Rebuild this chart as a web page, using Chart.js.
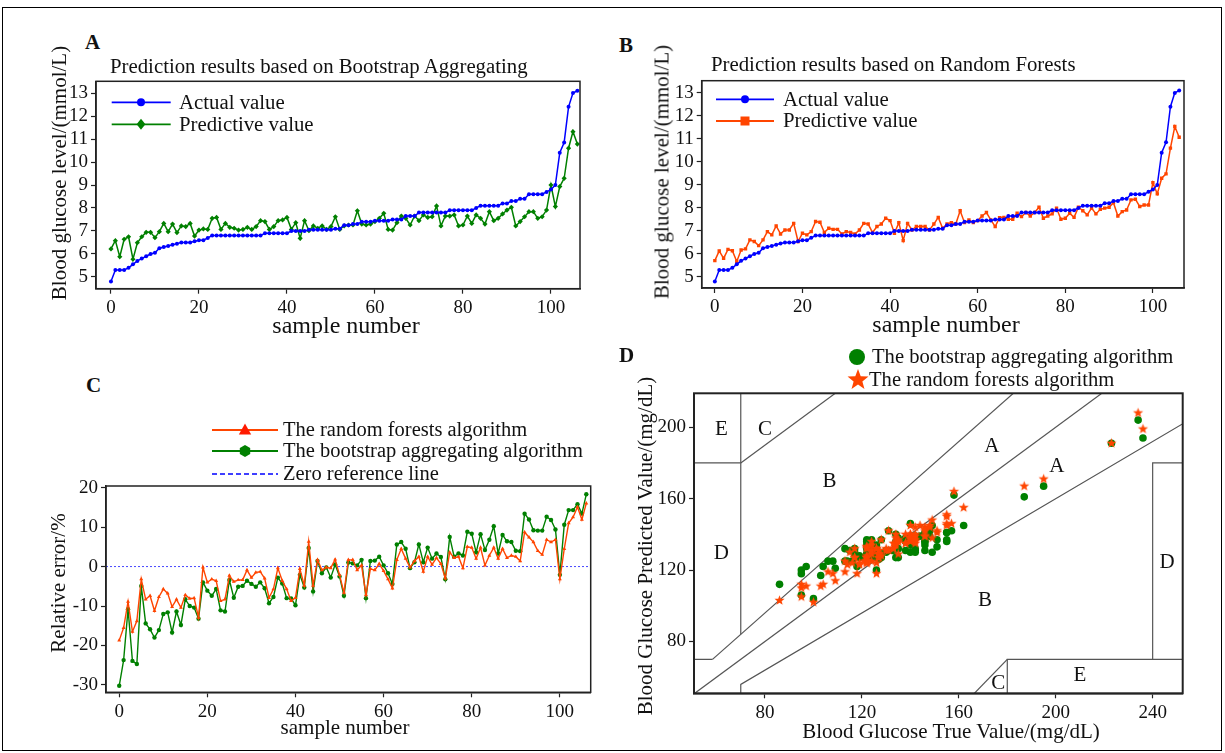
<!DOCTYPE html>
<html><head><meta charset="utf-8">
<script src="https://cdn.jsdelivr.net/npm/chart.js@4.4.1/dist/chart.umd.min.js"></script>
<style>
body{margin:0;background:#fff;width:1225px;height:753px;position:relative;overflow:hidden;font-family:"Liberation Serif","Times New Roman",serif;color:#111;}
.frame{position:absolute;left:2px;top:7px;width:1220px;height:744px;border:1px solid #000;box-sizing:border-box;}
canvas{position:absolute;}
.t{position:absolute;white-space:nowrap;font-size:21px;line-height:1;}
.big{font-size:24px;}
.v{transform:translate(-50%,-50%) rotate(-90deg);}
.h{transform:translate(-50%,-50%);}
.ttl{position:absolute;white-space:nowrap;font-size:20.8px;line-height:1;transform:translateY(-50%);}
.L{position:absolute;font-weight:bold;font-size:21px;line-height:1;transform:translateY(-50%);}
</style></head><body>
<div class="frame"></div>
<canvas id="cA" width="560" height="265" style="left:40px;top:75px"></canvas>
<canvas id="cB" width="570" height="265" style="left:640px;top:75px"></canvas>
<canvas id="cC" width="570" height="335" style="left:40px;top:405px"></canvas>
<canvas id="cD" width="600" height="410" style="left:620px;top:335px"></canvas>

<div class="L" style="left:85px;top:42px">A</div>
<div class="L" style="left:619px;top:45px">B</div>
<div class="L" style="left:86px;top:385px">C</div>
<div class="L" style="left:619px;top:355px">D</div>
<div class="ttl" style="left:110px;top:66px">Prediction results based on Bootstrap Aggregating</div>
<div class="ttl" style="left:711px;top:64px">Prediction results based on Random Forests</div>
<div class="t big h" style="left:346px;top:325px">sample number</div>
<div class="t big h" style="left:946px;top:324px">sample number</div>
<div class="t h" style="left:345px;top:727px">sample number</div>
<div class="t h" style="left:951px;top:731px">Blood Glucose True Value/(mg/dL)</div>
<div class="t v" style="left:59px;top:173px">Blood glucose level/(mmol/L)</div>
<div class="t v" style="left:662px;top:172px">Blood glucose level/(mmol/L)</div>
<div class="t v" style="left:58px;top:583px">Relative error/%</div>
<div class="t v" style="left:645px;top:546px">Blood Glucose Predicted Value/(mg/dL)</div>

<script>
// ---------- data ----------
const sampleNumbers = Array.from({length:107},(_,i)=>i);
const actualValue = [4.8,5.3,5.3,5.3,5.4,5.55,5.7,5.8,5.9,6.0,
6.05,6.25,6.3,6.35,6.4,6.45,6.5,6.5,6.5,6.55,
6.6,6.6,6.7,6.8,6.8,6.8,6.8,6.8,6.8,6.8,
6.8,6.8,6.8,6.8,6.8,6.9,6.9,6.9,6.9,6.9,
6.9,7.0,7.0,7.0,7.0,7.05,7.05,7.05,7.05,7.05,
7.05,7.1,7.1,7.25,7.25,7.3,7.3,7.4,7.4,7.4,
7.45,7.45,7.45,7.45,7.5,7.5,7.5,7.65,7.65,7.65,
7.8,7.8,7.8,7.8,7.8,7.8,7.8,7.9,7.9,7.9,
7.9,7.9,7.9,8.0,8.1,8.1,8.1,8.1,8.1,8.2,
8.2,8.3,8.3,8.4,8.4,8.6,8.6,8.6,8.6,8.7,
8.8,9.0,10.4,10.85,12.4,13.0,13.1];
const bagPredicted = [6.22,6.58,5.88,6.64,6.75,5.77,6.49,6.75,6.94,6.94,
6.71,6.97,7.33,6.97,7.3,6.93,7.22,7.19,7.33,6.78,
7.04,7.09,7.07,7.55,7.59,7.07,7.33,7.16,7.12,7.04,
7.07,7.16,7.07,7.19,7.45,7.41,7.07,7.19,7.45,7.48,
7.59,7.07,7.36,6.68,7.45,7.01,7.22,7.12,7.22,7.07,
7.19,7.62,7.07,7.22,7.26,7.26,7.88,7.3,7.26,7.3,
7.41,7.55,7.77,7.07,7.04,7.36,7.65,7.55,7.26,7.65,
7.45,7.7,7.59,7.62,8.09,7.22,7.65,7.65,7.7,7.22,
7.26,7.65,7.33,7.7,7.55,7.3,7.84,7.45,7.55,7.74,
7.91,8.03,7.22,7.41,7.62,7.84,7.84,7.55,7.62,7.91,
9.0,8.06,8.93,9.29,10.6,11.32,10.78];
const rfPredicted = [5.71,6.13,5.81,6.2,6.14,5.67,6.17,6.22,6.61,6.54,
6.36,6.61,6.97,6.83,7.22,6.87,7.04,7.04,7.33,6.54,
6.9,6.83,6.97,7.41,7.38,6.93,7.12,7.07,7.07,6.87,
6.97,6.93,6.87,7.04,7.33,7.3,6.93,7.19,7.3,7.55,
7.45,6.9,7.36,6.58,7.33,7.04,7.19,7.19,7.19,7.04,
7.3,7.59,7.12,7.3,7.36,7.3,7.88,7.36,7.48,7.36,
7.45,7.65,7.8,7.48,7.19,7.58,7.59,7.51,7.51,7.77,
7.62,7.8,7.65,7.8,8.03,7.55,7.65,7.74,7.99,7.51,
7.55,7.77,7.59,8.03,7.88,7.7,7.99,7.74,7.94,7.99,
8.03,8.23,7.65,7.84,7.91,8.35,8.38,8.06,8.13,8.13,
9.1,8.61,9.29,9.48,10.6,11.54,11.07];
const rfError = [-18.7,-15.5,-8.9,-16.5,-13.8,-3.2,-8.3,-7.4,-11.2,-7.7,
-5.7,-6.8,-10.2,-8.3,-10.4,-7.2,-8.1,-8.0,-12.9,-0.2,
-4.0,-3.2,-3.6,-8.7,-8.3,-2.3,-3.8,-3.4,-3.4,-0.9,
-2.8,-1.5,-1.3,-3.0,-7.9,-5.7,-0.4,-3.6,-5.7,-8.7,
-7.9,-0.6,-4.8,6.3,-4.8,1.7,-0.9,-0.2,-0.4,1.8,
-2.1,-6.6,1.7,1.7,-0.9,0.3,-7.2,-0.6,-0.9,0.7,
-1.1,-3.2,-5.5,1.7,4.5,2.0,-0.2,1.4,2.5,-1.3,
2.5,0.5,2.2,0.7,-3.0,3.6,2.2,2.5,-0.4,5.0,
4.8,2.0,4.8,0.3,2.8,4.8,2.0,4.5,2.2,2.8,
2.5,1.4,8.7,7.4,6.2,4.0,3.0,6.8,6.2,6.8,
-3.2,4.5,11.0,12.5,15.1,11.9,16.0];
const bagError = [-30.2,-23.7,-10.8,-23.9,-24.7,-4.9,-14.4,-15.9,-18.0,-16.1,
-12.0,-11.6,-16.7,-11.4,-14.8,-8.3,-10.0,-10.4,-13.2,-4.0,
-6.1,-7.4,-5.7,-11.1,-11.4,-3.4,-7.9,-5.1,-4.9,-3.6,
-4.4,-5.1,-4.0,-5.5,-9.3,-7.7,-2.8,-4.3,-8.0,-8.1,
-9.8,-2.1,-5.3,4.7,-6.3,1.4,-1.7,-0.2,-2.8,0.5,
-2.5,-7.4,1.0,0.8,0.3,1.7,-8.0,1.4,1.5,2.5,
0.3,-1.7,-4.4,5.6,6.2,4.5,-0.4,1.1,5.6,1.1,
4.8,2.0,3.3,2.4,-3.2,7.5,2.5,3.3,2.8,8.8,
8.3,3.6,8.2,4.2,6.8,10.2,3.3,8.0,6.4,6.2,
4.0,3.9,13.4,11.9,9.2,9.1,9.1,12.6,11.8,9.4,
-2.1,10.6,14.3,14.3,15.8,13.4,18.3];
const gridTrue = [86,95,95,95,97,100,103,104,106,108,
109,113,113,114,115,116,117,117,117,118,
119,119,121,122,122,122,122,122,122,122,
122,122,122,122,122,124,124,124,124,124,
124,126,126,126,126,127,127,127,127,127,
127,128,128,130,130,131,131,133,133,133,
134,134,134,134,135,135,135,138,138,138,
140,140,140,140,140,140,140,142,142,142,
142,142,142,144,146,146,146,146,146,148,
148,149,149,151,151,155,155,155,155,157,
158,162,187,195,223,234,236];
const gridBag = [112,118,106,120,122,104,117,122,125,125,
121,125,132,125,131,125,130,129,132,122,
127,128,127,136,137,127,132,129,128,127,
127,129,127,129,134,133,127,129,134,135,
137,127,132,120,134,126,130,128,130,127,
129,137,127,130,131,131,142,131,131,131,
133,136,140,127,127,132,138,136,131,138,
134,139,137,137,146,130,138,138,139,130,
131,138,132,139,136,131,141,134,136,139,
142,145,130,133,137,141,141,136,137,142,
162,145,161,167,191,204,194];
const gridRF = [103,110,105,112,111,102,111,112,119,118,
114,119,125,123,130,124,127,127,132,118,
124,123,125,133,133,125,128,127,127,124,
125,125,124,127,132,131,125,129,131,136,
134,124,132,118,132,127,129,129,129,127,
131,137,128,131,132,131,142,132,135,132,
134,138,140,135,129,136,137,135,135,140,
137,140,138,140,145,136,138,139,144,135,
136,140,137,145,142,139,144,139,143,144,
145,148,138,141,142,150,151,145,146,146,
164,155,167,171,191,208,199];
const ticksSample = [0,20,40,60,80,100];
const ticksGlucose = [5,6,7,8,9,10,11,12,13];
const ticksError = [-30,-20,-10,0,10,20];
const ticksTrueMg = [80,120,160,200,240];
const ticksPredMg = [80,120,160,200];
// Clarke error grid zone boundaries (mg/dL)
const zoneLines = [
  [[0,70],[58.33,70]], [[58.33,70],[250,300]], [[0,0],[400,400]],
  [[70,0],[70,56],[400,320]], [[70,84],[70,400]], [[0,180],[70,180]],
  [[70,180],[290,400]], [[130,0],[180,70]], [[180,0],[180,70],[400,70]],
  [[240,70],[240,180],[400,180]]
];
const zoneLabels = [['E',62,198.5],['C',80,198.7],['B',106.6,169.4],['A',173.6,189],['A',200.4,178.2],
  ['D',62,129.3],['B',170.8,103.2],['D',246,124],['C',176.3,56.6],['E',210,61.2]];

// ---------- helpers ----------
const FONT = '"Liberation Serif","Times New Roman",serif';
const BLUE='#0000ff', GREEN='#008000', ORANGE='#ff4500';
Chart.defaults.font.family = FONT;

function drawMarker(ctx,s,x,y,r,c){
  ctx.save(); ctx.fillStyle=c; ctx.beginPath();
  if(s==='circle'){ctx.arc(x,y,r,0,2*Math.PI);}
  else if(s==='diamond'){ctx.moveTo(x,y-r);ctx.lineTo(x+r*0.8,y);ctx.lineTo(x,y+r);ctx.lineTo(x-r*0.8,y);ctx.closePath();}
  else if(s==='square'){ctx.rect(x-r,y-r,2*r,2*r);}
  else if(s==='triangle'){ctx.moveTo(x,y-r);ctx.lineTo(x+r*0.95,y+r*0.7);ctx.lineTo(x-r*0.95,y+r*0.7);ctx.closePath();}
  else if(s==='hexagon'){for(let k=0;k<6;k++){const a=-Math.PI/2+k*Math.PI/3;const px=x+r*Math.cos(a),py=y+r*Math.sin(a);k?ctx.lineTo(px,py):ctx.moveTo(px,py);}ctx.closePath();}
  else if(s==='star'){for(let k=0;k<10;k++){const rr=k%2?r*0.42:r;const a=-Math.PI/2+k*Math.PI/5;const px=x+rr*Math.cos(a),py=y+rr*Math.sin(a);k?ctx.lineTo(px,py):ctx.moveTo(px,py);}ctx.closePath();}
  ctx.fill(); ctx.restore();
}
function markerImg(s,r,c){const cv=document.createElement('canvas');const n=Math.ceil(2*r+2);cv.width=n;cv.height=n;drawMarker(cv.getContext('2d'),s,n/2,n/2,r,c);return cv;}

const framePlugin = (w)=>({id:'frame',afterDraw(chart){const {ctx,chartArea:a}=chart;ctx.save();ctx.strokeStyle='#222';ctx.lineWidth=w;ctx.strokeRect(a.left,a.top,a.right-a.left,a.bottom-a.top);ctx.restore();}});
const legendPlugin = (items,fs)=>({id:'lg',afterDraw(chart){
  const {ctx,chartArea:a}=chart; ctx.save(); ctx.font=(fs||20.6)+'px '+FONT; ctx.textBaseline='middle';
  items.forEach(it=>{const y=a.top+it.dy;
    if(it.x0!==undefined){ctx.strokeStyle=it.color;ctx.lineWidth=it.lw||1.8;ctx.setLineDash(it.dash||[]);ctx.beginPath();ctx.moveTo(a.left+it.x0,y);ctx.lineTo(a.left+it.x1,y);ctx.stroke();ctx.setLineDash([]);}
    if(it.marker) drawMarker(ctx,it.marker,a.left+it.mx,y,it.mr,it.mcolor||it.color);
    ctx.fillStyle='#111'; ctx.fillText(it.text,a.left+it.tx,y+1);});
  ctx.restore();}});
const zonePlugin = {id:'zones',afterDatasetsDraw(chart){const {ctx,scales:{x,y}}=chart;ctx.save();ctx.font='21px '+FONT;ctx.fillStyle='#111';ctx.textAlign='center';ctx.textBaseline='middle';
  zoneLabels.forEach(z=>ctx.fillText(z[0],x.getPixelForValue(z[1]),y.getPixelForValue(z[2])));ctx.restore();}};

function axis(min,max,ticks,fit){return {type:'linear',min,max,
  afterBuildTicks:s=>{s.ticks=ticks.map(v=>({value:v}));},
  afterFit:s=>{fit(s);s.paddingTop=0;s.paddingBottom=0;s.paddingLeft=0;s.paddingRight=0;},
  ticks:{color:'#111',font:{family:FONT,size:19},padding:3,autoSkip:false,maxRotation:0},
  grid:{display:true,drawOnChartArea:false,drawTicks:true,tickLength:5,tickColor:'#222',tickWidth:1.2,color:'#222'},
  border:{display:true,color:'#222',width:1.5}};}
function base(pad,scales){return {responsive:false,animation:false,events:[],layout:{padding:pad},
  plugins:{legend:{display:false},tooltip:{enabled:false},title:{display:false}},scales};}
function series(vals,color,style,r,bw){return {data:sampleNumbers.map(i=>({x:i,y:vals[i]})),borderColor:color,backgroundColor:color,
  borderWidth:bw||1.5,pointRadius:r,pointStyle:style,pointBorderWidth:0,pointBackgroundColor:color,tension:0};}

// ---------- A ----------
new Chart(document.getElementById('cA'),{type:'line',
  data:{datasets:[series(actualValue,BLUE,'circle',2),series(bagPredicted,GREEN,'rectRot',2.6)]},
  options:base({left:0,top:6.3,right:20,bottom:0},{
    x:axis(-3.4,106.6,ticksSample,s=>{s.height=51.3;}),
    y:axis(4.49,13.51,ticksGlucose,s=>{s.width=56;})}),
  plugins:[framePlugin(1.5),legendPlugin([
    {x0:15.7,x1:74.7,dy:21,color:BLUE,marker:'circle',mx:45,mr:4,tx:83,text:'Actual value'},
    {x0:15.7,x1:74.7,dy:43,color:GREEN,marker:'diamond',mx:45,mr:5.5,tx:83,text:'Predictive value'}],20.8)]});

// ---------- B ----------
new Chart(document.getElementById('cB'),{type:'line',
  data:{datasets:[series(actualValue,BLUE,'circle',2),series(rfPredicted,ORANGE,'rect',2.4)]},
  options:base({left:0,top:5.7,right:26,bottom:0},{
    x:axis(-3.0,107.1,ticksSample,s=>{s.height=52;}),
    y:axis(4.52,13.53,ticksGlucose,s=>{s.width=61.7;})}),
  plugins:[framePlugin(1.5),legendPlugin([
    {x0:14.3,x1:72.3,dy:18.6,color:BLUE,marker:'circle',mx:43.3,mr:4,tx:81.3,text:'Actual value'},
    {x0:14.3,x1:72.3,dy:40.3,color:ORANGE,marker:'square',mx:43.3,mr:4.5,tx:81.3,text:'Predictive value'}],20.8)]});

// ---------- C ----------
new Chart(document.getElementById('cC'),{type:'line',
  data:{datasets:[
    series(rfError,ORANGE,'triangle',2.3,1.4),
    series(bagError,GREEN,'circle',2.2,1.4),
    {data:[{x:-3.0,y:0},{x:107,y:0}],borderColor:'rgba(40,40,255,0.85)',borderWidth:1,borderDash:[2,2],pointRadius:0,tension:0}]},
  options:base({left:0,top:81,right:19.3,bottom:0},{
    x:axis(-3.0,107,ticksSample,s=>{s.height=47.7;}),
    y:axis(-31.85,20.4,ticksError,s=>{s.width=66;})}),
  plugins:[framePlugin(1.5),legendPlugin([
    {x0:106,x1:172,dy:-56,color:ORANGE,marker:'triangle',mx:139,mr:6.5,mcolor:'#ff1a00',tx:177,text:'The random forests algorithm'},
    {x0:106,x1:172,dy:-35,color:GREEN,marker:'hexagon',mx:139,mr:6,tx:177,text:'The bootstrap aggregating algorithm'},
    {x0:106,x1:172,dy:-12,color:BLUE,dash:[5,3],lw:1.5,tx:177,text:'Zero reference line'}],20.5)]});

// ---------- D ----------
const zoneSets = zoneLines.map(seg=>({data:seg.map(p=>({x:p[0],y:p[1]})),showLine:true,borderColor:'#555',borderWidth:1.2,pointRadius:0,order:5}));
new Chart(document.getElementById('cD'),{type:'scatter',
  data:{datasets:[
    {data:sampleNumbers.map(i=>({x:gridTrue[i],y:gridRF[i]})),pointStyle:markerImg('star',5.3,ORANGE),order:0},
    {data:sampleNumbers.map(i=>({x:gridTrue[i],y:gridBag[i]})),pointStyle:'circle',pointRadius:3.8,pointBorderWidth:0,backgroundColor:GREEN,order:1},
    ...zoneSets]},
  options:base({left:0,top:58.3,right:37.3,bottom:0},{
    x:axis(50.7,252.4,ticksTrueMg,s=>{s.height=51.7;}),
    y:axis(51,219,ticksPredMg,s=>{s.width=74;})}),
  plugins:[zonePlugin,framePlugin(2),legendPlugin([
    {dy:-36.3,marker:'circle',mx:163,mr:8,color:GREEN,tx:178,text:'The bootstrap aggregating algorithm'},
    {dy:-13.3,marker:'star',mx:164,mr:11,color:ORANGE,tx:175,text:'The random forests algorithm'}],20.6)]});
</script>
</body></html>
